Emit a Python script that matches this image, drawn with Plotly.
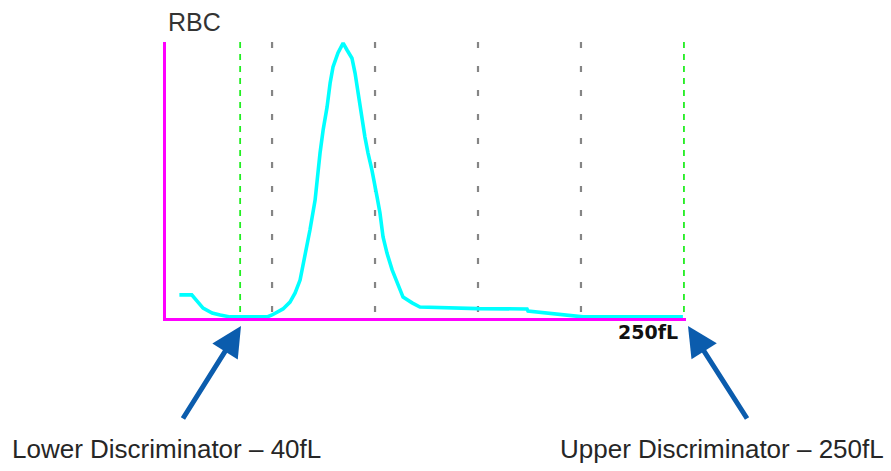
import plotly.graph_objects as go

# RBC histogram (volume in fL vs relative count)
volume_fl = [5, 11, 16.5, 20.9, 24.8, 29.6, 34.5, 47.6, 50, 52.4, 55.3, 58.7, 61.2, 63.6,
             66, 68.4, 70.9, 72.3, 73.3, 74.8, 76.7, 78.2, 79.6, 82, 84.5, 86.4, 88.8, 90.3,
             91.7, 93.7, 95.1, 96.6, 98.5, 101, 102.4, 103.9, 105.8, 108.3, 110.7, 113.6,
             118, 121.8, 150, 173.8, 174.3, 184, 189.8, 199.5, 201, 249.5]
rel_count = [8.4, 8.4, 3.6, 1.8, 1.1, 0.4, 0.4, 0.4, 1.1, 2.2, 3.3, 5.8, 9.1, 13.8,
             22.2, 32, 42.9, 53.8, 60, 68.4, 76.7, 85.5, 91.3, 96.4, 100, 97.5, 94.5, 89.1,
             81.8, 73.1, 65.8, 60, 53.8, 44, 38.2, 29.5, 23.6, 17.5, 12.7, 7.6,
             5.5, 4.0, 3.4, 3.3, 2.5, 1.8, 1.5, 0.7, 0.4, 0.4]

grid_fl = [50, 100, 150, 200]          # gray dashed reference lines
discriminators_fl = [34.5, 250]        # green dashed discriminator lines
y_top = 100.4
x_range = [-1.5, 251.0]

# pixel frame of the plot area
L, R, T, B = 166, 686, 42, 318
W, H = R - L, B - T


def px(xp):
    return (xp - L) / W


def py(yp):
    return (B - yp) / H


fig = go.Figure()
fig.add_trace(go.Scatter(x=volume_fl, y=rel_count, mode="lines",
                         line=dict(color="#00ffff", width=3.6),
                         cliponaxis=False, hoverinfo="skip", showlegend=False))

for g in grid_fl:
    fig.add_shape(type="line", xref="x", yref="y", x0=g, x1=g, y0=y_top, y1=0,
                  line=dict(color="#858585", width=2.2, dash="6px,18px"), layer="below")
for d in discriminators_fl:
    fig.add_shape(type="line", xref="x", yref="y", x0=d, x1=d, y0=y_top, y1=0,
                  line=dict(color="#22ee22", width=1.8, dash="6px,6px"), layer="below")

fig.update_xaxes(range=x_range, showline=True, linecolor="#ff00ff", linewidth=3,
                 showgrid=False, zeroline=False, showticklabels=False, ticks="",
                 layer="below traces")
fig.update_yaxes(range=[0, y_top], showline=True, linecolor="#ff00ff", linewidth=3,
                 showgrid=False, zeroline=False, showticklabels=False, ticks="",
                 layer="below traces")

txt = "#262626"
anns = [
    dict(text="RBC", xref="paper", yref="paper", x=0.0, y=1.0, xanchor="left",
         yanchor="bottom", yshift=4, showarrow=False,
         font=dict(family="Liberation Sans, Arial", size=25, color="#333333")),
    dict(text="<b>250fL</b>", xref="paper", yref="paper", x=px(680),
         y=py(332), xanchor="right", yanchor="middle", showarrow=False,
         font=dict(family="DejaVu Sans", size=19, color="#111111")),
    dict(text="Lower Discriminator – 40fL", xref="paper", yref="paper",
         x=px(10), y=py(449), xanchor="left", yanchor="middle",
         showarrow=False, font=dict(family="Liberation Sans, Arial", size=26, color=txt)),
    dict(text="Upper Discriminator – 250fL", xref="paper", yref="paper",
         x=px(886), y=py(449), xanchor="right", yanchor="middle",
         showarrow=False, font=dict(family="Liberation Sans, Arial", size=26, color=txt)),
    dict(text="", xref="paper", yref="paper", x=px(241), y=py(326),
         ax=-59, ay=94, showarrow=True, arrowhead=2, arrowsize=1.2, arrowwidth=5,
         arrowcolor="#0b5cad", standoff=0),
    dict(text="", xref="paper", yref="paper", x=px(688), y=py(326),
         ax=60, ay=94, showarrow=True, arrowhead=2, arrowsize=1.2, arrowwidth=5,
         arrowcolor="#0b5cad", standoff=0),
]
fig.update_layout(width=891, height=471, margin=dict(l=L, r=891 - R, t=T, b=471 - B),
                  plot_bgcolor="white", paper_bgcolor="white", annotations=anns,
                  showlegend=False)
fig.write_html("out.html", config={"displayModeBar": False},
               post_script="document.body.style.margin='0';document.body.style.overflow='hidden';")
